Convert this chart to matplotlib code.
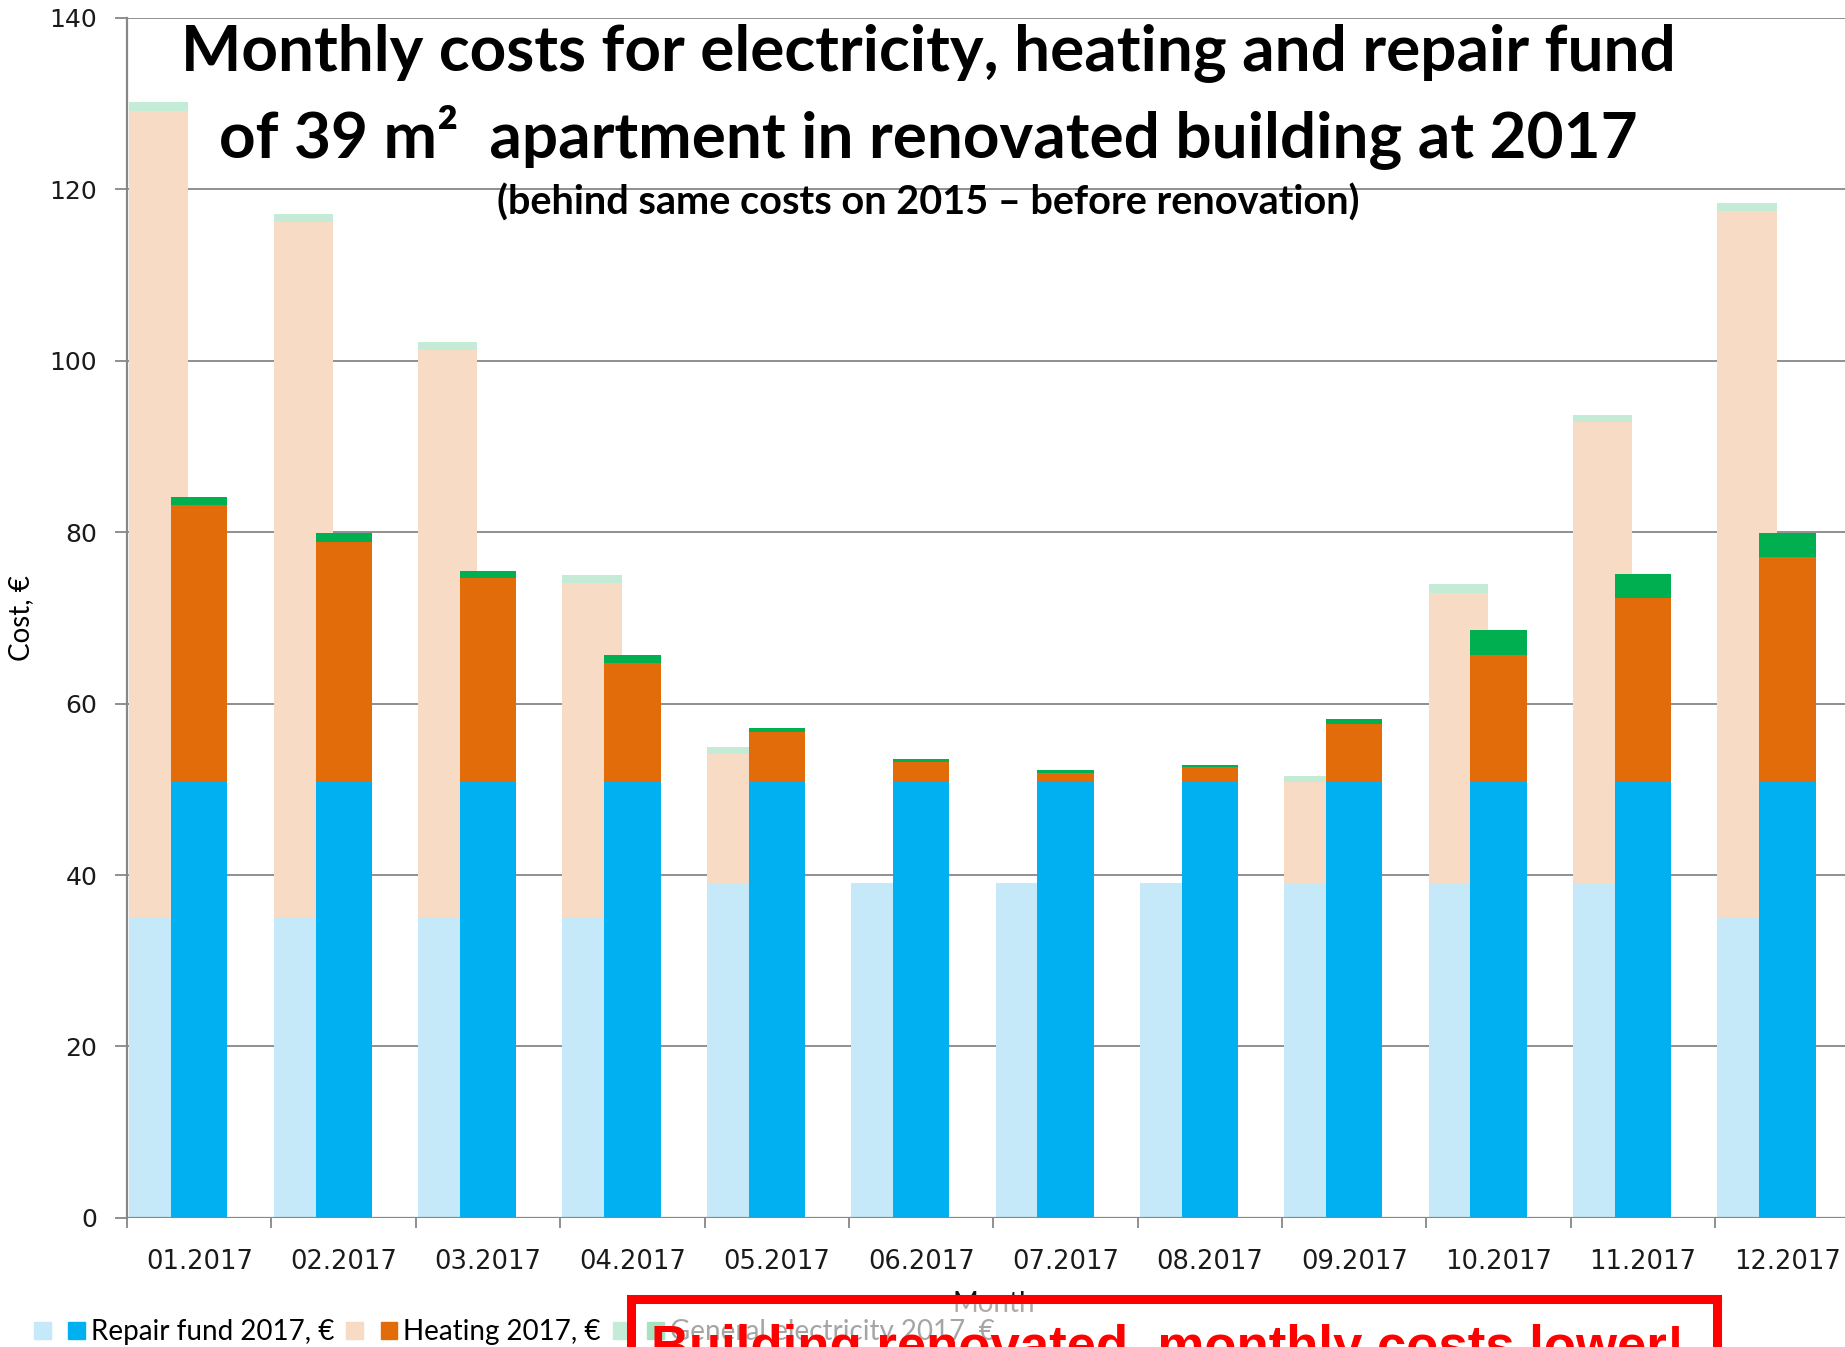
import numpy as np
import matplotlib
matplotlib.use("Agg")
import matplotlib.pyplot as plt
from matplotlib.patches import Rectangle, Patch

months = ['01.2017', '02.2017', '03.2017', '04.2017', '05.2017', '06.2017',
          '07.2017', '08.2017', '09.2017', '10.2017', '11.2017', '12.2017']

# 2015 (before renovation), drawn pale behind
repair15 = [35.1, 35.1, 35.1, 35.1, 39.1, 39.1, 39.1, 39.1, 39.1, 39.1, 39.1, 35.1]
heat15   = [94.0, 81.1, 66.1, 39.0, 15.0, 0.0, 0.0, 0.0, 11.8, 33.8, 53.7, 82.4]
elec15   = [1.1, 0.9, 1.0, 0.9, 0.8, 0.0, 0.0, 0.0, 0.7, 1.0, 0.9, 0.9]

# 2017 (after renovation)
repair17 = [50.8, 50.8, 50.8, 50.8, 50.8, 50.8, 50.8, 50.8, 50.8, 50.8, 50.8, 50.8]
heat17   = [32.3, 28.0, 23.8, 13.9, 5.9, 2.4, 1.1, 1.8, 6.8, 14.9, 21.5, 26.3]
elec17   = [1.0, 1.05, 0.9, 0.95, 0.45, 0.3, 0.3, 0.2, 0.6, 2.9, 2.8, 2.8]

c_rep15, c_heat15, c_elec15 = '#C5E9F8', '#F7DBC4', '#C3EBD6'
c_rep17, c_heat17, c_elec17 = '#00B0F0', '#E36C0A', '#00B050'

fig = plt.figure(figsize=(18.45, 13.47), dpi=100)
ax = fig.add_axes([0.0689, 0.0958, 0.939, 0.8911])

x = np.arange(len(months))
x15 = x - 0.28
w15, w17 = 0.41, 0.39

r15 = np.array(repair15); h15 = np.array(heat15); e15 = np.array(elec15)
r17 = np.array(repair17); h17 = np.array(heat17); e17 = np.array(elec17)

ax.bar(x15, r15, w15, color=c_rep15, zorder=2)
ax.bar(x15, h15, w15, bottom=r15, color=c_heat15, zorder=2)
ax.bar(x15, e15, w15, bottom=r15 + h15, color=c_elec15, zorder=2)
ax.bar(x, r17, w17, color=c_rep17, zorder=3)
ax.bar(x, h17, w17, bottom=r17, color=c_heat17, zorder=3)
ax.bar(x, e17, w17, bottom=r17 + h17, color=c_elec17, zorder=3)

ax.set_xlim(-0.5, 11.5)
ax.set_ylim(0, 140)
ax.set_yticks(np.arange(0, 141, 20))
ax.yaxis.grid(True, color='#878787', lw=1.3, zorder=1)
ax.set_axisbelow(True)
for s in ['top', 'right', 'bottom']:
    ax.spines[s].set_visible(False)
ax.spines['left'].set_color('#878787')
ax.spines['left'].set_linewidth(1.6)
ax.axhline(0, color='#878787', lw=1.6, zorder=4)

ax.set_xticks(x)
ax.set_xticklabels(months)
ax.set_xticks(np.arange(-0.5, 12, 1), minor=True)
ax.tick_params(axis='x', which='major', length=0, pad=22, labelsize=18.5, labelcolor='#1a1a1a')
ax.tick_params(axis='x', which='minor', length=7, width=1.3, color='#878787')
ax.tick_params(axis='y', length=8.5, width=1.3, color='#878787', pad=13,
               labelsize=18, labelcolor='#1a1a1a')

ax.set_xlabel('Month', fontsize=20, family='Lato', color='#111111', labelpad=12)
fig.text(0.0114, 0.541, 'Cost, €', rotation=90, ha='center', va='center',
         fontsize=20, family='Lato')

# title block
fig.text(0.503, 1 - 53 / 1347, 'Monthly costs for electricity, heating and repair fund',
         ha='center', va='center', fontsize=46, fontweight='bold', family='Lato')
fig.text(0.503, 1 - 137 / 1347, 'of 39 m²  apartment in renovated building at 2017',
         ha='center', va='center', fontsize=46, fontweight='bold', family='Lato')
fig.text(0.503, 1 - 203 / 1347, '(behind same costs on 2015 – before renovation)',
         ha='center', va='center', fontsize=28.5, fontweight='bold', family='Lato')

# legend (2015 entries show only their swatch)
handles = [Patch(color=c_rep15), Patch(color=c_rep17), Patch(color=c_heat15),
           Patch(color=c_heat17), Patch(color=c_elec15), Patch(color=c_elec17)]
labels = ['', 'Repair fund 2017, €', '', 'Heating 2017, €', '', 'General electricity 2017, €']
fig.legend(handles, labels, loc='center left', bbox_to_anchor=(0.0184, 0.011),
           ncol=6, frameon=False, prop={'family': 'Lato', 'size': 20},
           handlelength=0.6, handleheight=0.6, handletextpad=0.22,
           columnspacing=0.42, borderpad=0, borderaxespad=0)

# red callout box laid over the bottom
box = Rectangle((631 / 1845, -0.05), (1717 - 631) / 1845, 0.05 + 1 - 1299 / 1347,
                transform=fig.transFigure, facecolor=(1, 1, 1, 0.65),
                edgecolor='#FF0000', lw=6.5, zorder=10)
fig.patches.append(box)
fig.text(651 / 1845, 1 - 1363 / 1347, 'Building renovated, monthly costs lower!',
         ha='left', va='baseline', fontsize=38, fontweight='bold',
         family='Liberation Sans', color='#FF0000', zorder=11)

fig.savefig('out.png', dpi=100)
